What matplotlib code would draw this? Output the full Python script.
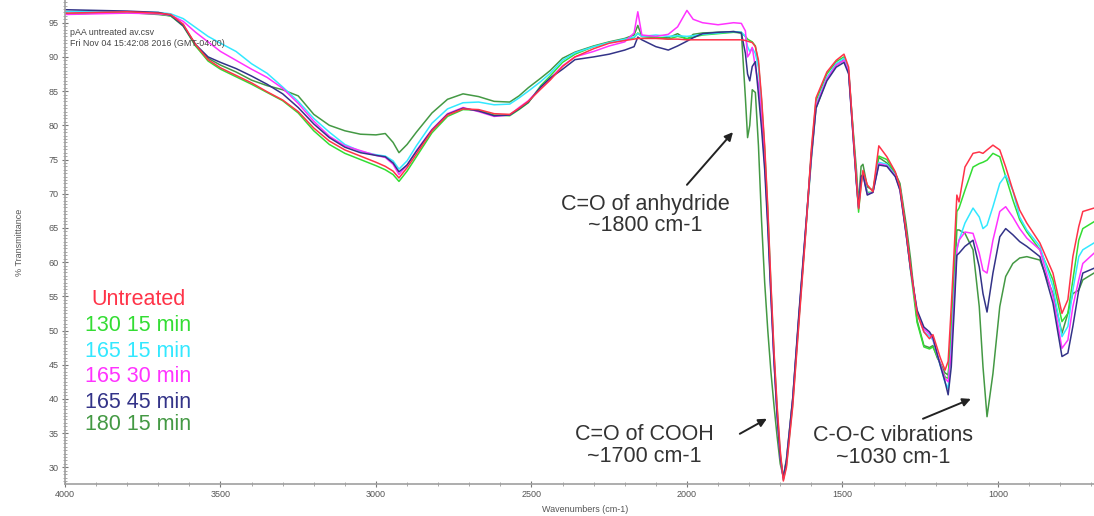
import numpy as np
import matplotlib.pyplot as plt
from matplotlib.ticker import MultipleLocator

plt.rcParams['font.family'] = ['Liberation Sans', 'DejaVu Sans']

# wavenumber grid (cm-1)
wavenumbers = [
    4000, 3900, 3800, 3700, 3660, 3620, 3580, 3540, 3500, 3450, 3400, 3350, 3300, 3250, 3200, 3150,
    3100, 3050, 3000, 2970, 2945, 2926, 2900, 2870, 2820, 2770, 2720, 2670, 2620, 2570, 2540, 2510,
    2470, 2440, 2400, 2360, 2300, 2250, 2200, 2170, 2158, 2145, 2100, 2060, 2030, 2000, 1980, 1950,
    1900, 1850, 1825, 1812, 1805, 1798, 1790, 1780,
    1770, 1760, 1750, 1740, 1730, 1720, 1710, 1700, 1690, 1680, 1660, 1640, 1620, 1600, 1585, 1550,
    1520, 1495,
    1480, 1465, 1455, 1448, 1440, 1434, 1420, 1402, 1383, 1357, 1330, 1315, 1295, 1281, 1260, 1238,
    1220, 1209, 1195, 1186, 1170, 1160,
    1150, 1140, 1132, 1125, 1106, 1080, 1060, 1048, 1035, 1016, 994, 975, 952, 930, 907, 865,
    823, 794, 775, 759, 740, 727, 691,
]

untreated = [
    96.4, 96.5, 96.6, 96.4, 96.2, 94.8, 91.8, 89.6, 88.4, 87.3, 86.2, 84.9, 83.7, 82.0, 79.6, 77.7,
    76.4, 75.5, 74.6, 74.0, 73.3, 72.3, 73.8, 75.8, 79.2, 81.5, 82.4, 82.3, 81.7, 81.6, 82.5, 83.5,
    85.3, 86.6, 88.6, 90.0, 91.2, 92.0, 92.4, 92.6, 92.7, 92.7, 92.7, 92.6, 92.6, 92.5, 92.5, 92.5,
    92.5, 92.5, 92.5, 92.4, 92.3, 92.2, 92.1, 91.5,
    89.5, 84.0, 77.0, 68.0, 57.0, 47.0, 39.0, 32.5, 28.0, 30.0, 38.8, 51.0, 63.0, 76.5, 84.0, 87.8,
    89.5, 90.4,
    88.5, 78.5, 72.0, 67.8, 71.0, 73.4, 71.3, 70.3, 77.0, 75.4, 73.2, 71.0, 64.5, 59.3, 52.5, 49.8,
    48.8, 49.4, 47.4, 46.1, 44.2, 45.5,
    53.5, 62.3, 69.8, 68.8, 73.9, 75.9, 76.1, 75.9, 76.4, 77.1, 76.4, 73.9, 70.5, 67.6, 65.7, 62.8,
    58.4, 52.5, 54.5, 60.8, 65.2, 67.4, 67.9,
]

t130_15 = [
    96.3, 96.4, 96.5, 96.3, 96.0, 94.7, 91.6, 89.4, 88.2, 87.1, 86.0, 84.8, 83.6, 81.8, 79.2, 77.2,
    75.9, 75.0, 74.1, 73.5, 72.8, 71.8, 73.3, 75.4, 78.9, 81.3, 82.3, 82.2, 81.5, 81.4, 82.3, 83.3,
    85.8, 87.2, 89.2, 90.4, 91.5, 92.1, 92.5, 92.8, 93.5, 93.0, 92.9, 92.6, 93.0, 92.7, 92.9, 93.2,
    93.4, 93.6, 93.5, 93.0, 92.6, 92.4, 92.2, 91.6,
    89.0, 83.5, 76.5, 67.5, 56.5, 46.5, 38.5, 32.0, 28.2, 30.3, 39.2, 51.5, 63.5, 76.0, 83.6, 87.5,
    89.3, 90.0,
    88.0, 78.5, 72.0, 67.3, 71.5, 73.0, 70.2, 70.2, 75.5, 75.0, 73.0, 71.0, 64.2, 58.8, 51.2, 47.6,
    47.3, 47.6, 46.2, 45.2, 43.2, 43.0,
    50.6, 59.3, 67.4, 67.9, 70.5, 73.9, 74.4, 74.6, 74.9, 75.9, 75.4, 72.5, 69.1, 66.2, 64.4, 61.8,
    57.4, 51.3, 52.5, 57.4, 63.2, 64.9, 65.9,
]

t165_15 = [
    96.6, 96.7, 96.6, 96.5, 96.3, 95.6, 94.3, 93.0, 92.0, 90.8, 89.0, 87.6, 85.6, 83.5, 81.0, 79.0,
    77.2, 76.2, 75.7, 75.5, 74.8, 73.6, 74.8, 77.0, 80.3, 82.4, 83.3, 83.4, 83.0, 83.1, 84.0, 85.0,
    86.4, 87.6, 89.5, 90.6, 91.5, 92.1, 92.6, 92.9, 93.4, 93.0, 93.2, 93.0, 93.1, 93.0, 93.1, 93.3,
    93.5, 93.7, 93.6, 93.0, 91.5, 90.8, 91.3, 90.5,
    88.5, 82.5, 75.5, 66.5, 56.0, 46.0, 38.0, 31.8, 28.4, 30.6, 39.5, 51.8, 63.5, 75.5, 83.0, 87.0,
    89.0, 89.8,
    88.0, 78.2, 71.8, 68.0, 72.0, 73.0, 70.0, 70.2, 74.6, 74.3, 72.7, 70.8, 64.2, 59.0, 52.6, 49.8,
    49.2, 48.6, 46.5, 45.0, 42.4, 41.5,
    47.6, 55.9, 61.8, 63.2, 65.7, 67.9, 66.6, 64.9, 65.4, 68.1, 71.5, 72.7, 70.5, 66.6, 64.7, 62.3,
    56.4, 49.1, 50.6, 55.9, 60.8, 61.8, 62.8,
]

t165_30 = [
    96.2, 96.3, 96.4, 96.3, 96.1, 95.2, 93.6, 92.2, 90.8, 89.5, 88.2, 87.0, 85.4, 83.2, 80.6, 78.4,
    77.0, 76.3, 75.6, 75.3, 74.3, 72.8, 74.2, 76.3, 79.4, 81.7, 82.6, 82.0, 81.3, 81.5, 82.6, 83.6,
    85.5, 86.8, 88.7, 90.0, 90.8, 91.6, 92.2, 93.5, 96.6, 93.2, 93.0, 93.3, 94.4, 96.8, 95.5, 95.0,
    94.7, 95.0, 94.9, 93.8, 90.0, 90.5, 91.4, 88.5,
    86.0, 81.0, 74.5, 66.0, 55.5, 45.5, 37.5, 31.5, 28.3, 30.8, 39.8, 52.0, 63.8, 75.5, 82.8, 86.8,
    88.8, 89.5,
    87.8, 78.0, 71.7, 68.0, 72.3, 72.8, 69.9, 70.2, 74.4, 74.1, 72.6, 70.6, 64.1, 59.0, 52.8, 50.2,
    49.5, 48.8, 46.5, 45.2, 43.0, 42.5,
    46.7, 55.0, 61.8, 63.2, 64.4, 64.2, 61.3, 58.8, 58.4, 63.2, 67.4, 68.1, 66.6, 64.9, 63.5, 61.8,
    55.0, 47.4, 48.6, 53.5, 57.4, 59.8, 61.3,
]

t165_45 = [
    96.9, 96.8, 96.7, 96.5, 96.1, 94.6, 91.8, 90.0, 89.2, 88.3, 87.2, 86.0, 84.6, 82.6, 80.2, 78.2,
    76.8, 76.0, 75.6, 75.4, 74.5, 73.2, 74.2, 76.2, 79.3, 81.6, 82.5, 82.1, 81.4, 81.5, 82.4, 83.4,
    85.6, 86.9, 88.2, 89.6, 90.0, 90.4, 91.0, 91.5, 92.9, 92.5, 91.5, 91.0, 91.6, 92.3, 92.8, 93.4,
    93.6, 93.7, 93.5, 90.5, 87.5, 86.5, 88.6, 89.3,
    84.5, 79.5, 73.5, 65.0, 55.0, 45.5, 37.5, 31.5, 28.5, 31.0, 40.0, 52.5, 64.0, 75.5, 82.5, 86.5,
    88.5, 89.2,
    87.5, 78.0, 71.5, 68.0, 72.5, 72.8, 69.8, 70.2, 74.2, 74.0, 72.5, 70.5, 64.0, 59.0, 53.0, 50.5,
    49.8, 49.0, 46.5, 45.0, 42.5, 40.6,
    44.7, 53.5, 61.0, 61.3, 62.3, 63.2, 59.3, 55.4, 52.7, 58.4, 63.7, 64.9, 64.0, 63.0, 62.3, 60.8,
    54.0, 46.2, 46.7, 50.6, 55.9, 58.4, 59.1,
]

t180_15 = [
    96.3, 96.4, 96.5, 96.2, 96.0, 94.5, 91.6, 89.8, 88.8, 87.8, 86.6, 85.8, 85.2, 84.3, 81.6, 80.0,
    79.2, 78.7, 78.6, 78.8, 77.5, 76.0, 77.2, 79.0, 81.8, 83.8, 84.6, 84.2, 83.5, 83.4, 84.3, 85.5,
    86.9, 88.0, 89.8, 90.7, 91.6, 92.2, 92.7, 93.2, 94.6, 93.0, 92.8, 92.8, 93.4, 92.5, 93.3, 93.5,
    93.6, 93.7, 93.6, 84.0, 78.2, 80.0, 85.2, 84.8,
    77.0, 66.0, 57.0, 50.0, 44.0, 39.0, 34.5, 30.5, 28.6, 31.2, 40.0, 52.0, 63.5, 75.0, 82.5, 86.8,
    88.8, 89.6,
    87.8, 79.0, 73.5, 68.5, 74.0, 74.3, 71.0, 70.5, 75.3, 74.5, 73.0, 71.5, 65.5, 60.5, 51.5, 47.8,
    47.5, 47.8, 46.0, 45.3, 43.8, 43.5,
    48.6, 57.4, 64.7, 64.7, 64.2, 61.8, 53.5, 44.7, 37.4, 43.7, 53.5, 57.9, 59.8, 60.6, 60.8, 60.3,
    55.4, 49.6, 52.5, 55.4, 55.9, 57.4, 58.4,
]

labels = ['Untreated', '130 15 min', '165 15 min', '165 30 min', '165 45 min', '180 15 min']
colors = ['#ff3348', '#33dd33', '#33e8ff', '#ff33ff', '#333388', '#449944']
spectra = [untreated, t130_15, t165_15, t165_30, t165_45, t180_15]

W, H = 1094, 516
fig = plt.figure(figsize=(W / 100, H / 100), dpi=100)
ax = fig.add_axes([65 / W, (H - 484) / H, 1 - 65 / W, 484 / H])

# draw order: dark green underneath, red on top
for i in [5, 1, 2, 3, 4, 0]:
    ax.plot(wavenumbers, spectra[i], color=colors[i], lw=1.1)

ax.set_xlim(4000, 691)
ax.set_ylim(27.56, 98.32)

for s in ['top', 'right']:
    ax.spines[s].set_visible(False)
for s in ['left', 'bottom']:
    ax.spines[s].set_color('#a0a0a0')
    ax.spines[s].set_linewidth(1.2)

ax.xaxis.set_major_locator(MultipleLocator(500))
ax.xaxis.set_minor_locator(MultipleLocator(100))
ax.yaxis.set_minor_locator(MultipleLocator(0.5))
ax.set_yticks(np.arange(30, 96, 5))
ax.tick_params(which='major', direction='inout', length=5, width=0.8, color='#777777',
               labelsize=6.5, labelcolor='#555555', pad=2)
ax.tick_params(which='minor', direction='inout', length=2.5, width=0.6, color='#999999')

ax.set_xlabel('Wavenumbers (cm-1)', fontsize=6.5, color='#555555')
ax.set_ylabel('% Transmittance', fontsize=6.5, color='#555555', labelpad=18)
ax.xaxis.set_label_coords((585 - 65) / (W - 65), -21 / 484)

ax.text(0.005, 1 - 33 / 484, 'pAA untreated av.csv', transform=ax.transAxes,
        fontsize=6.4, color='#444444', va='center')
ax.text(0.005, 1 - 44 / 484, 'Fri Nov 04 15:42:08 2016 (GMT-04:00)', transform=ax.transAxes,
        fontsize=6.4, color='#444444', va='center')

# legend as coloured text
legend_y = [54.6, 50.8, 47.0, 43.3, 39.5, 36.2]
for lab, col, yy in zip(labels, colors, legend_y):
    ax.text(3765, yy, lab, color=col, fontsize=15.5, ha='center', va='center')

# annotations
ax.text(2135, 66.9, 'C=O of anhydride\n~1800 cm-1', fontsize=15.5, color='#333333',
        ha='center', va='center', linespacing=1.05)
ax.text(2138, 33.2, 'C=O of COOH\n~1700 cm-1', fontsize=15.5, color='#333333',
        ha='center', va='center', linespacing=1.05)
ax.text(1338, 33.1, 'C-O-C vibrations\n~1030 cm-1', fontsize=15.5, color='#333333',
        ha='center', va='center', linespacing=1.05)

arrow = dict(arrowstyle='-|>', color='#222222', lw=1.4, mutation_scale=12, shrinkA=0, shrinkB=0)
ax.annotate('', xy=(1852, 79.0), xytext=(2000, 71.3), arrowprops=arrow)
ax.annotate('', xy=(1743, 37.1), xytext=(1830, 34.9), arrowprops=arrow)
ax.annotate('', xy=(1087, 40.0), xytext=(1241, 37.1), arrowprops=arrow)

fig.savefig('out.png', dpi=100)
